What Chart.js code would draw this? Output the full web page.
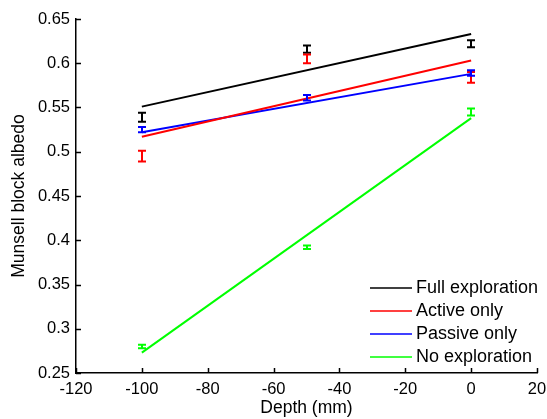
<!DOCTYPE html>
<html>
<head>
<meta charset="utf-8">
<script src="https://cdn.jsdelivr.net/npm/chart.js@4"></script>
<style>
  html, body { margin: 0; padding: 0; background: #fff; }
  #wrap { width: 547px; height: 419px; }
</style>
</head>
<body>
<div id="wrap"><canvas id="albedoChart" width="547" height="419"></canvas></div>
<script>
// DATA
const depths = [-100, -50, 0];
const xTicks = [-120, -100, -80, -60, -40, -20, 0, 20];
const yTicks = [0.25, 0.3, 0.35, 0.4, 0.45, 0.5, 0.55, 0.6, 0.65];

const labels = ["Full exploration", "Active only", "Passive only", "No exploration"];
const colors = ["#000000", "#ff0000", "#0000ff", "#00ff00"];

const fullMean = [0.539, 0.616, 0.622];
const activeMean = [0.495, 0.605, 0.584];
const passiveMean = [0.525, 0.561, 0.589];
const noneMean = [0.280, 0.392, 0.545];

const fullErr = [0.005, 0.004, 0.004];
const activeErr = [0.006, 0.005, 0.006];
const passiveErr = [0.003, 0.003, 0.003];
const noneErr = [0.002, 0.002, 0.004];

// fitted lines, end points
const fitX = [-100, 0];
const fullFit = [0.551, 0.633];
const activeFit = [0.517, 0.603];
const passiveFit = [0.522, 0.588];
const noneFit = [0.273, 0.538];

const means = [fullMean, activeMean, passiveMean, noneMean];
const errs = [fullErr, activeErr, passiveErr, noneErr];
const fits = [fullFit, activeFit, passiveFit, noneFit];

const font = "Liberation Sans, Arial, sans-serif";

// BUILD DATASETS
let datasets = [];
fits.forEach((fit, i) => {
  datasets.push({
    label: labels[i],
    data: fitX.map((x, j) => ({ x: x, y: fit[j] })),
    showLine: true,
    borderColor: colors[i],
    backgroundColor: colors[i],
    borderWidth: 2,
    pointRadius: 0,
    fill: false,
  });
});

// ERROR BARS
const errorBars = {
  id: "errorBars",
  afterDatasetsDraw(chart) {
    const ctx = chart.ctx;
    const xs = chart.scales.x;
    const ys = chart.scales.y;
    ctx.save();
    ctx.lineWidth = 2;
    means.forEach((m, i) => {
      ctx.strokeStyle = colors[i];
      depths.forEach((d, j) => {
        const px = Math.round(xs.getPixelForValue(d));
        const top = ys.getPixelForValue(m[j] + errs[i][j]);
        const bot = ys.getPixelForValue(m[j] - errs[i][j]);
        ctx.beginPath();
        ctx.moveTo(px, top);
        ctx.lineTo(px, bot);
        ctx.moveTo(px - 4, top);
        ctx.lineTo(px + 4, top);
        ctx.moveTo(px - 4, bot);
        ctx.lineTo(px + 4, bot);
        ctx.stroke();
      });
    });
    ctx.restore();
  },
};

// INWARD TICKS AND LEGEND
const axesExtras = {
  id: "axesExtras",
  afterDraw(chart) {
    const ctx = chart.ctx;
    const area = chart.chartArea;
    const xs = chart.scales.x;
    const ys = chart.scales.y;
    ctx.save();
    ctx.strokeStyle = "#000";
    ctx.lineWidth = 1.5;
    ctx.beginPath();
    xTicks.forEach((t) => {
      const px = Math.round(xs.getPixelForValue(t)) + 0.5;
      ctx.moveTo(px, area.bottom);
      ctx.lineTo(px, area.bottom - 5);
    });
    yTicks.forEach((t) => {
      const py = Math.round(ys.getPixelForValue(t)) + 0.5;
      ctx.moveTo(area.left, py);
      ctx.lineTo(area.left + 5, py);
    });
    ctx.stroke();

    // legend
    ctx.font = "18px " + font;
    ctx.textBaseline = "middle";
    ctx.fillStyle = "#000";
    labels.forEach((label, i) => {
      const y = 288 + i * 23;
      ctx.strokeStyle = colors[i];
      ctx.lineWidth = 1.5;
      ctx.beginPath();
      ctx.moveTo(370, y);
      ctx.lineTo(412, y);
      ctx.stroke();
      ctx.fillText(label, 416, y);
    });
    ctx.restore();
  },
};

function formatY(value) {
  return String(Number(value.toFixed(2)));
}

// CHART
const canvas = document.getElementById("albedoChart");
const myChart = new Chart(canvas.getContext("2d"), {
  type: "scatter",
  data: { datasets: datasets },
  plugins: [errorBars, axesExtras],
  options: {
    responsive: false,
    animation: false,
    layout: { padding: { top: 19, right: 10, left: 9, bottom: 0 } },
    plugins: { legend: { display: false }, tooltip: { enabled: false } },
    scales: {
      x: {
        type: "linear",
        min: -120,
        max: 20,
        afterBuildTicks: (scale) => {
          scale.ticks = xTicks.map((v) => ({ value: v }));
        },
        afterFit: (scale) => {
          scale.height = 46;
          scale.paddingLeft = 0;
          scale.paddingRight = 0;
        },
        grid: { display: false, drawTicks: false },
        border: { display: true, color: "#000", width: 1.5 },
        ticks: { color: "#000", font: { family: font, size: 16.5 }, padding: 7, maxRotation: 0 },
        title: {
          display: true,
          text: "Depth (mm)",
          color: "#000",
          font: { family: font, size: 17.5 },
          padding: { top: 0, bottom: 0 },
        },
      },
      y: {
        type: "linear",
        min: 0.25,
        max: 0.65,
        afterBuildTicks: (scale) => {
          scale.ticks = yTicks.map((v) => ({ value: v }));
        },
        afterFit: (scale) => {
          scale.width = 67;
          scale.paddingTop = 0;
          scale.paddingBottom = 0;
        },
        grid: { display: false, drawTicks: false },
        border: { display: true, color: "#000", width: 1.5 },
        ticks: { color: "#000", font: { family: font, size: 16.5 }, padding: 6, callback: formatY },
        title: {
          display: true,
          text: "Munsell block albedo",
          color: "#000",
          font: { family: font, size: 17.5 },
          padding: { top: 0, bottom: 4 },
        },
      },
    },
  },
});
</script>
</body>
</html>
